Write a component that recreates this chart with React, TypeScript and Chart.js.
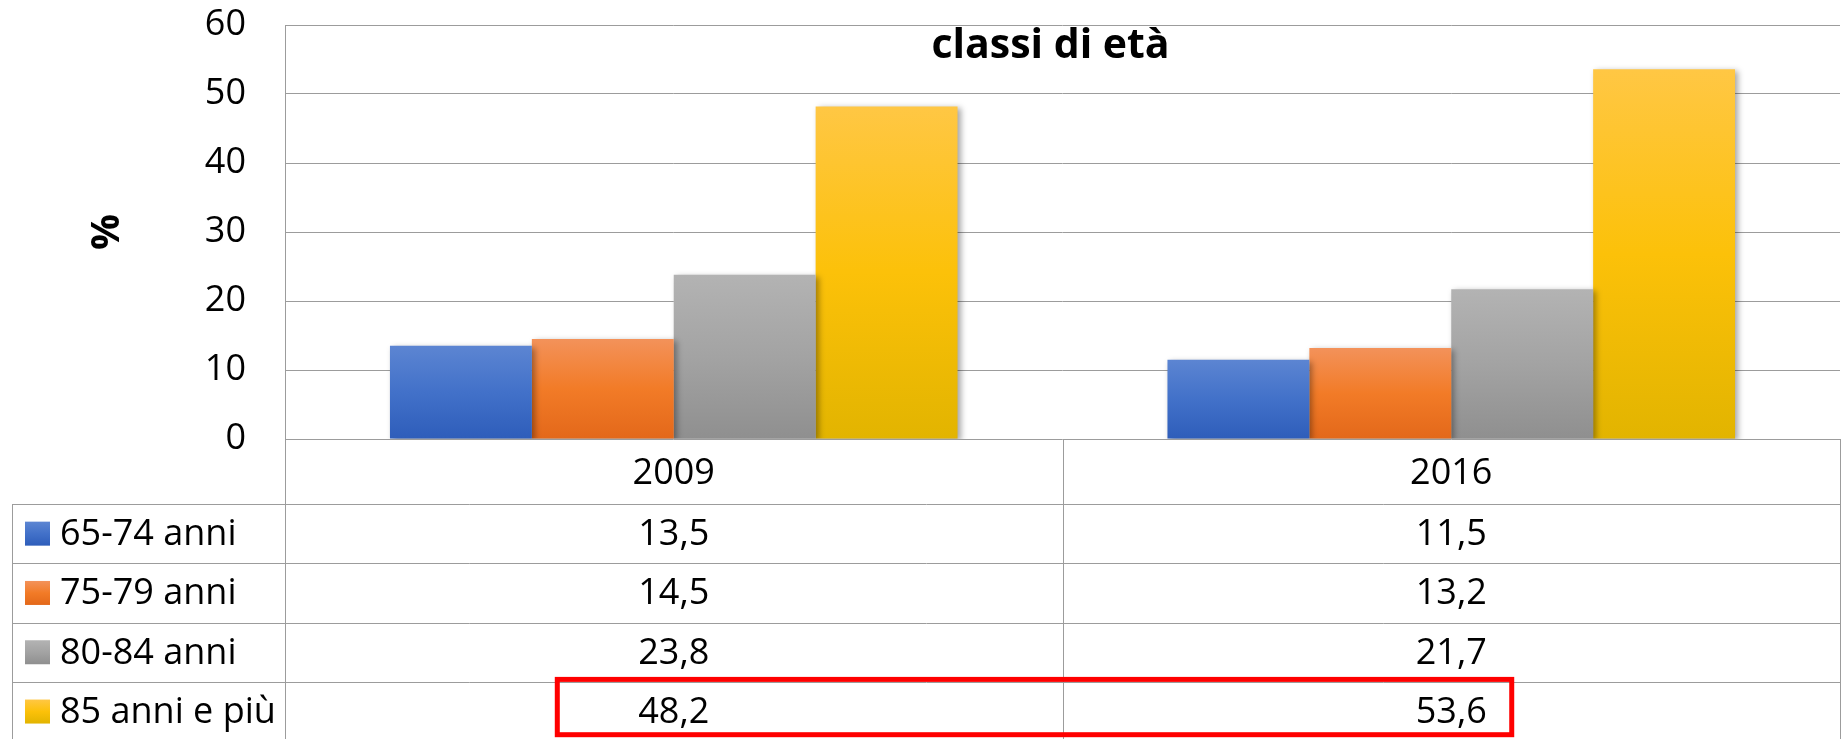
import React, { useEffect, useRef } from "react";
import { Chart, registerables } from "chart.js";

Chart.register(...registerables);

// ---- data ----
const categories = ["2009", "2016"];
const seriesLabels = ["65-74 anni", "75-79 anni", "80-84 anni", "85 anni e più"];
const values6574 = [13.5, 11.5];
const values7579 = [14.5, 13.2];
const values8084 = [23.8, 21.7];
const values85 = [48.2, 53.6];
const seriesValues = [values6574, values7579, values8084, values85];
const yMin = 0;
const yMax = 60;
const yStep = 10;
const chartTitle = "classi di età";
const yAxisTitle = "%";
const highlightedRow = 3;

// ---- styles ----
const FONT = '"Open Sans", "Noto Sans", sans-serif';
const gradientStops = [
  ["#5c85d2", "#4271c9", "#2e5dba"],
  ["#f3925a", "#f27b27", "#e3681a"],
  ["#b3b3b3", "#a3a3a3", "#8f8f8f"],
  ["#ffc744", "#fcc109", "#e2b400"],
];
const lineColor = "#9c9c9c";

const fmt = (v: number) => v.toFixed(1).replace(".", ",");

function makeGradient(ctx: CanvasRenderingContext2D, top: number, bottom: number, stops: string[]) {
  const g = ctx.createLinearGradient(0, top, 0, bottom);
  g.addColorStop(0, stops[0]);
  g.addColorStop(0.5, stops[1]);
  g.addColorStop(1, stops[2]);
  return g;
}

const shadowPlugin = {
  id: "barShadow",
  beforeDatasetsDraw(chart: any) {
    const ctx = chart.ctx;
    ctx.save();
    ctx.shadowColor = "rgba(0,0,0,0.35)";
    ctx.shadowBlur = 6;
    ctx.shadowOffsetX = 3;
    ctx.shadowOffsetY = 2;
  },
  afterDatasetsDraw(chart: any) {
    chart.ctx.restore();
  },
};

const tablePlugin = {
  id: "dataTable",
  afterDraw(chart: any) {
    const ctx: CanvasRenderingContext2D = chart.ctx;
    const area = chart.chartArea;
    const xs = chart.scales.x;
    const H = chart.height;
    const colW = xs.getPixelForValue(1) - xs.getPixelForValue(0);
    const centers = categories.map((_, i) => xs.getPixelForValue(i));
    const colEdges = [centers[0] - colW / 2, ...centers.map((c) => c + colW / 2)];
    const legendLeft = 12;
    const catRowH = 65;
    const rowH = 59.3;
    const rowTops = seriesLabels.map((_, i) => area.bottom + catRowH + i * rowH);

    ctx.save();
    // title
    ctx.fillStyle = "#000";
    ctx.font = `bold 41px ${FONT}`;
    ctx.textAlign = "center";
    ctx.textBaseline = "alphabetic";
    ctx.fillText(chartTitle, (area.left + area.right) / 2 - 12, area.top + 33);

    // lines
    ctx.strokeStyle = lineColor;
    ctx.lineWidth = 1;
    const hline = (x1: number, x2: number, y: number) => {
      ctx.beginPath();
      ctx.moveTo(x1, Math.round(y) + 0.5);
      ctx.lineTo(x2, Math.round(y) + 0.5);
      ctx.stroke();
    };
    const vline = (x: number, y1: number, y2: number) => {
      ctx.beginPath();
      ctx.moveTo(Math.round(x) + 0.5, y1);
      ctx.lineTo(Math.round(x) + 0.5, y2);
      ctx.stroke();
    };
    vline(area.left, area.top, H);
    colEdges.slice(1).forEach((x) => vline(Math.min(x, chart.width - 1), area.bottom, H));
    vline(legendLeft, rowTops[0], H);
    rowTops.forEach((y) => hline(legendLeft, chart.width, y));

    // legend cells
    ctx.textAlign = "left";
    ctx.textBaseline = "middle";
    ctx.font = `36px ${FONT}`;
    seriesLabels.forEach((label, i) => {
      const cy = rowTops[i] + rowH / 2;
      ctx.fillStyle = makeGradient(ctx, cy - 12, cy + 12, gradientStops[i]);
      ctx.fillRect(legendLeft + 13, cy - 12, 25, 24);
      ctx.fillStyle = "#000";
      ctx.fillText(label, legendLeft + 48, cy + 1);
    });

    // values
    ctx.textAlign = "center";
    seriesValues.forEach((vals, i) => {
      const cy = rowTops[i] + rowH / 2;
      vals.forEach((v, j) => {
        ctx.fillText(fmt(v), centers[j], cy + 1);
      });
    });

    // highlight box
    const hy = rowTops[highlightedRow];
    ctx.strokeStyle = "#ff0000";
    ctx.lineWidth = 5;
    const bx1 = colEdges[0] + colW * 0.347;
    const bx2 = colEdges[1] + colW * 0.581;
    ctx.strokeRect(bx1 + 2.5, hy - 5 + 2.5, bx2 - bx1 - 5, rowH + 1 - 5);
    ctx.restore();
  },
};

export default function App() {
  const ref = useRef<HTMLCanvasElement>(null);

  useEffect(() => {
    if (!ref.current) return;
    const chart = new Chart(ref.current, {
      type: "bar",
      data: {
        labels: categories,
        datasets: seriesLabels.map((label, i) => ({
          label,
          data: seriesValues[i],
          borderWidth: 0,
          backgroundColor: (c: any) => {
            const ch = c.chart;
            if (!ch.chartArea || c.raw === undefined) return gradientStops[i][1];
            const ys = ch.scales.y;
            const top = ys.getPixelForValue(c.raw);
            const bottom = ys.getPixelForValue(0);
            return makeGradient(ch.ctx, top, bottom, gradientStops[i]);
          },
          categoryPercentage: 0.73,
          barPercentage: 1.0,
        })),
      },
      options: {
        responsive: false,
        animation: false,
        devicePixelRatio: 1,
        layout: { padding: { left: 0, right: 1, top: 25, bottom: 0 } },
        plugins: {
          legend: { display: false },
          title: { display: false },
          tooltip: { enabled: false },
        },
        scales: {
          x: {
            grid: { display: false, drawTicks: false },
            border: { display: false },
            ticks: { color: "#000", font: { family: FONT, size: 36 }, padding: 13 },
            afterFit: (s: any) => {
              s.height = 300;
              s.paddingLeft = 0;
              s.paddingRight = 0;
            },
          },
          y: {
            min: yMin,
            max: yMax,
            grid: { color: lineColor, drawTicks: false, lineWidth: 1 },
            border: { display: false },
            ticks: { stepSize: yStep, color: "#000", font: { family: FONT, size: 36 }, padding: 39 },
            title: {
              display: true,
              text: yAxisTitle,
              color: "#000",
              font: { family: FONT, size: 40, weight: "bold" },
              padding: { top: 84, bottom: 0 },
            },
            afterFit: (s: any) => {
              s.width = 285;
              s.paddingTop = 0;
              s.paddingBottom = 0;
            },
          },
        },
      },
      plugins: [shadowPlugin, tablePlugin],
    });
    return () => chart.destroy();
  }, []);

  return (
    <div style={{ position: "absolute", left: 0, top: 0, width: 1841, height: 739, background: "#fff" }}>
      <canvas ref={ref} width={1841} height={739} />
    </div>
  );
}
